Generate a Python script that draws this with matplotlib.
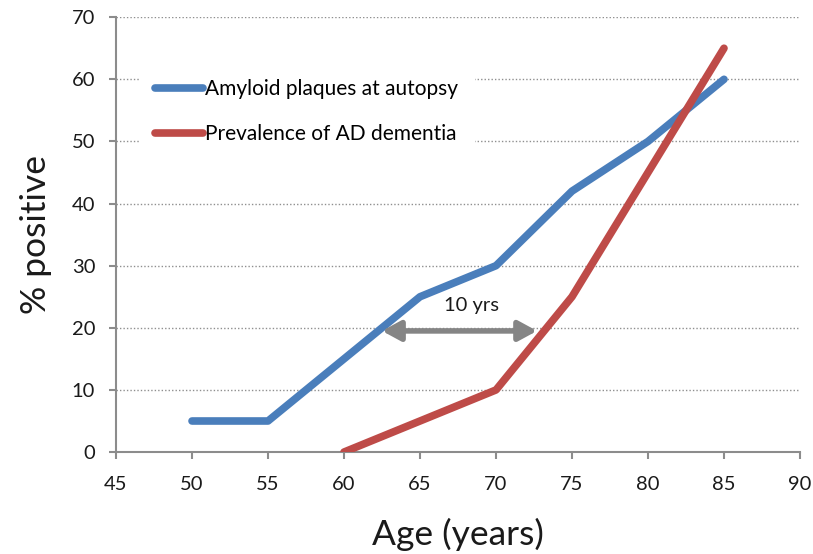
import matplotlib
matplotlib.use('Agg')
import matplotlib.pyplot as plt

# data
age_amyloid = [50, 55, 60, 65, 70, 75, 80, 85]
pct_amyloid = [5, 5, 15, 25, 30, 42, 50, 60]
age_dementia = [60, 65, 70, 75, 80, 85]
pct_dementia = [0, 5, 10, 25, 45, 65]
x_ticks = [45, 50, 55, 60, 65, 70, 75, 80, 85, 90]
y_ticks = [0, 10, 20, 30, 40, 50, 60, 70]
gap_start, gap_end, gap_level = 62.5, 72.7, 19.5

plt.rcParams['font.family'] = ['Lato', 'DejaVu Sans']

fig = plt.figure(figsize=(8.13, 5.54), dpi=100)
ax = fig.add_axes([0.1427, 0.184, 0.8413, 0.785])

for y in y_ticks[1:]:
	ax.axhline(y, color='#8f8f8f', linewidth=1.0, linestyle=(0, (1, 1.5)), zorder=0)

ax.plot(age_amyloid, pct_amyloid, color='#4a7ebb', linewidth=5.5, solid_capstyle='round',
	solid_joinstyle='round', label='Amyloid plaques at autopsy', zorder=3)
ax.plot(age_dementia, pct_dementia, color='#be4b48', linewidth=5.5, solid_capstyle='round',
	solid_joinstyle='round', label='Prevalence of AD dementia', zorder=3)

ax.annotate('', xy=(gap_start, gap_level), xytext=(gap_end, gap_level),
	arrowprops=dict(arrowstyle='<|-|>,head_length=1.1,head_width=0.6', color='#858585',
		linewidth=4, shrinkA=0, shrinkB=0), zorder=4)
ax.text((gap_start + gap_end) / 2 + 0.8, gap_level + 2.8, '10 yrs', ha='center', va='bottom',
	fontsize=14.5, color='#1a1a1a')

ax.set_xlim(45, 90)
ax.set_ylim(0, 70)
ax.set_xticks(x_ticks)
ax.set_yticks(y_ticks)

for side in ['top', 'right']:
	ax.spines[side].set_visible(False)
for side in ['left', 'bottom']:
	ax.spines[side].set_color('#8c8c8c')
	ax.spines[side].set_linewidth(1.5)

ax.tick_params(axis='both', colors='#8c8c8c', width=1.5, labelcolor='#1a1a1a', labelsize=14.5)
ax.tick_params(axis='x', length=5, pad=12)
ax.tick_params(axis='y', length=5, pad=10)

ax.set_xlabel('Age (years)', fontsize=25.5, labelpad=18, color='#1a1a1a')
ax.set_ylabel('% positive', fontsize=25.5, labelpad=14, color='#1a1a1a')

leg = ax.legend(loc='upper left', bbox_to_anchor=(0.018, 0.92), fontsize=15, frameon=True,
	handlelength=2.3, handletextpad=0.1, labelspacing=1.2, borderpad=0.8, fancybox=False)
leg.get_frame().set_facecolor('white')
leg.get_frame().set_edgecolor('none')
leg.get_frame().set_alpha(1.0)
leg.set_zorder(2)
for line in leg.get_lines():
	line.set_linewidth(5.5)
	line.set_solid_capstyle('round')

fig.savefig('out.png', dpi=100)
